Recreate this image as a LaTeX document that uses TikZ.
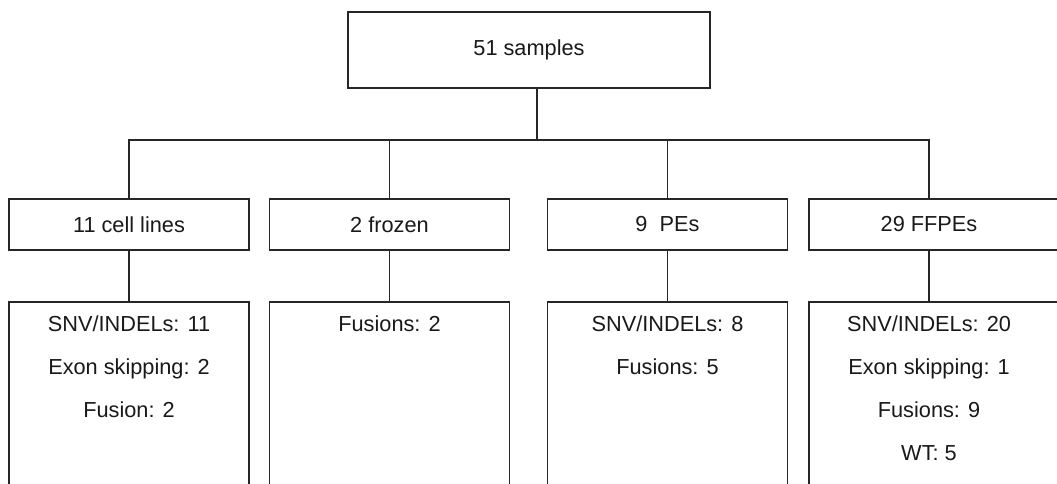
\documentclass[tikz,border=0pt]{standalone}
\usepackage{fontspec}
\setmainfont{Liberation Sans}
\begin{document}
\begin{tikzpicture}[x=0.75pt,y=-0.75pt,
  ln/.style={draw=black!85, line width=1.3pt},
  box/.style={ln, rectangle, inner sep=0pt, minimum width=180pt, minimum height=38.25pt,
    font=\fontsize{16.3}{19}\selectfont, text=black!90},
  tall/.style={ln, rectangle, inner sep=0pt, minimum width=180pt, minimum height=163.5pt},
  txt/.style={inner sep=0pt, anchor=north, align=center, text=black!90,
    font=\fontsize{16.3}{32.25}\selectfont}
]
\useasboundingbox (0,0) rectangle (1057,484);
\clip (0,0) rectangle (1057,484);
\fill[white] (0,0) rectangle (1057,484);

% top
\node[box, minimum width=271.5pt, minimum height=57pt] (top) at (529,50) {51 samples};
\coordinate (j) at (537,140);

% level 2
\node[box] (c1) at (129,224.5) {11 cell lines};
\node[box] (c2) at (389.5,224.5) {2 frozen};
\node[box] (c3) at (667.5,224.5) {9\ \ PEs};
\node[box, minimum width=199.5pt] (c4) at (942,224.5) {};
\node[inner sep=0pt, text=black!90, font=\fontsize{16.3}{19}\selectfont] (l4) at (929,224.5) {29 FFPEs};

% level 3
\node[tall] (d1) at (129,411) {};
\node[tall] (d2) at (389.5,411) {};
\node[tall] (d3) at (667.5,411) {};
\node[tall, minimum width=199.5pt] (d4) at (942,411) {};

\node[txt] (t1) at (129,315) {SNV/INDELs: 11\\Exon skipping: 2\\Fusion: 2};
\node[txt] (t2) at (389.5,315) {Fusions: 2};
\node[txt] (t3) at (667.5,315) {SNV/INDELs: 8\\Fusions: 5};
\node[txt] (t4) at (929,315) {SNV/INDELs: 20\\Exon skipping: 1\\Fusions: 9\\WT: 5};

% connectors
\draw[ln] (top.south -| j) -- (j);
\draw[ln] (j) -| (c1.north);
\draw[ln] (j) -| (c2.north);
\draw[ln] (j) -| (c3.north);
\draw[ln] (j) -| (c4.north -| l4);
\draw[ln] (c1.south) -- (d1.north);
\draw[ln] (c2.south) -- (d2.north);
\draw[ln] (c3.south) -- (d3.north);
\draw[ln] (c4.south -| l4) -- (d4.north -| l4);
\end{tikzpicture}
\end{document}
